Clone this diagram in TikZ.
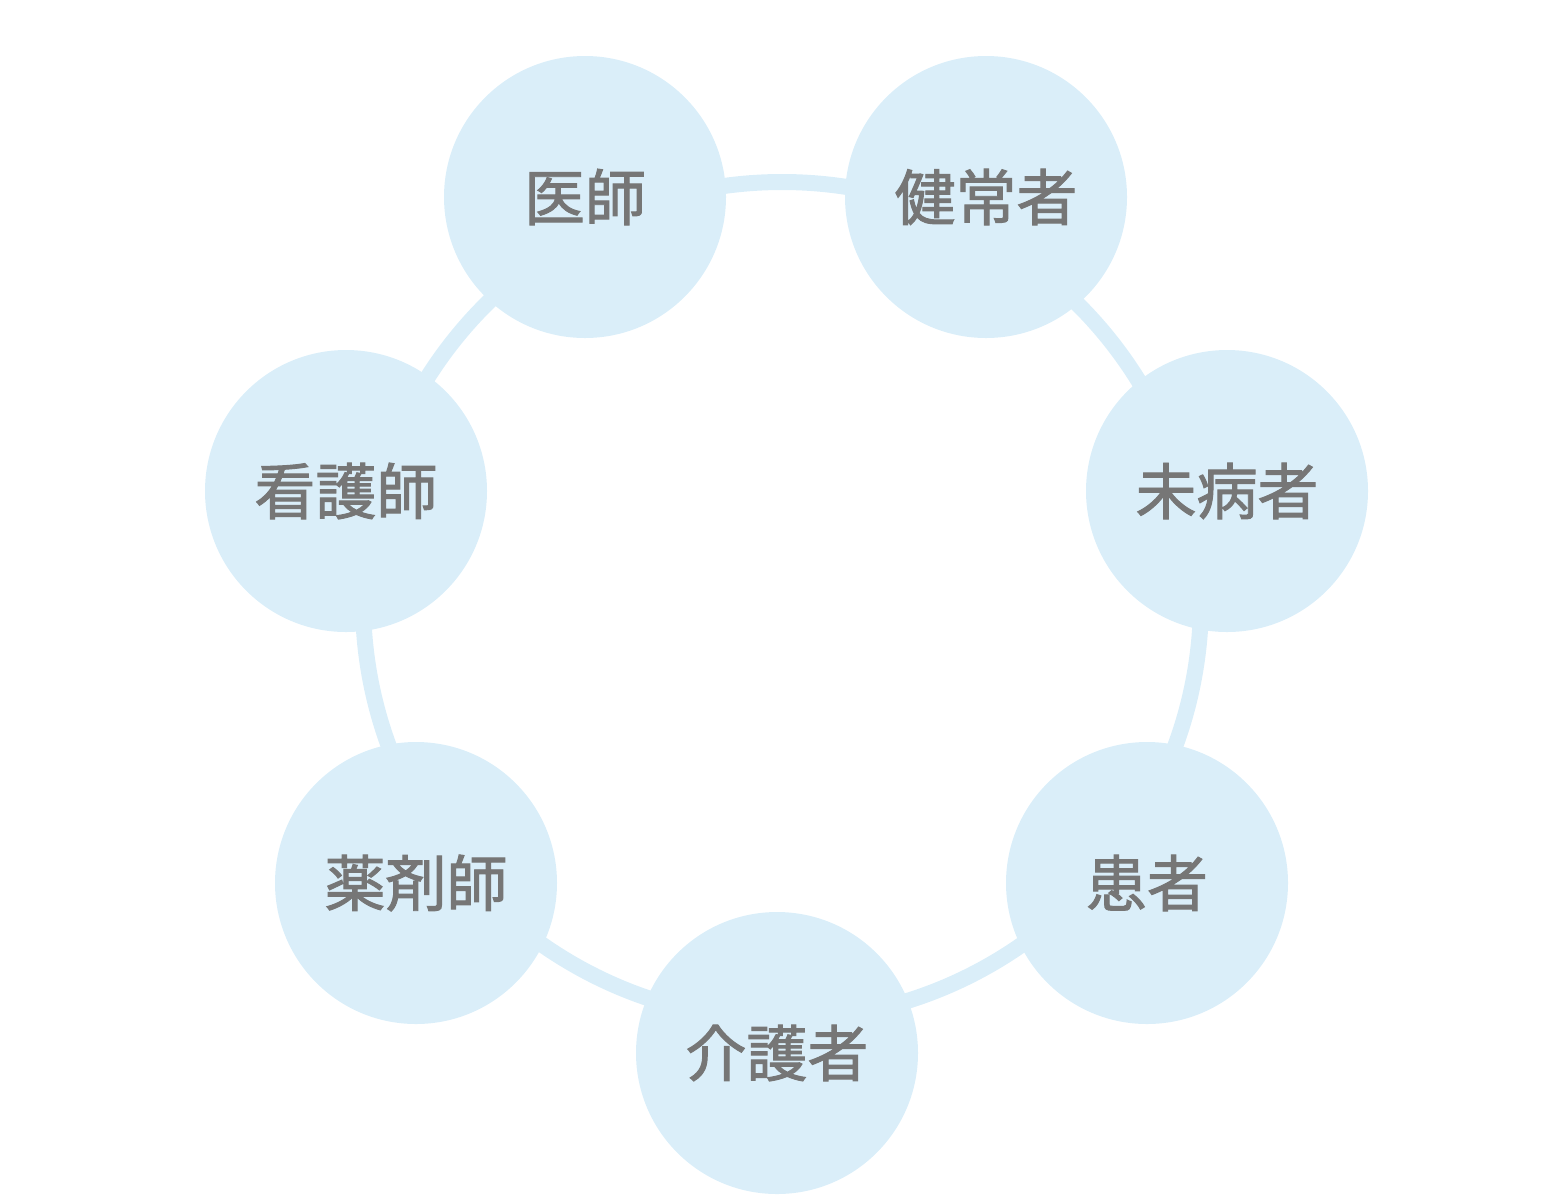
\documentclass[tikz,border=0pt]{standalone}
\usepackage{fontspec}
\newfontfamily\jpfont[FakeBold=1.6]{Noto Sans CJK JP}
\definecolor{ringblue}{HTML}{DAEEF9}
\definecolor{labelgray}{HTML}{767676}

\begin{document}
\begin{tikzpicture}[x=1pt,y=-1pt,semithick]
\tikzstyle{member}=[circle,fill=ringblue,draw=none,minimum size=282pt,inner sep=0pt,text=labelgray,font=\jpfont\fontsize{61}{61}\selectfont]
\useasboundingbox (0,0) rectangle (1554,1195);
\coordinate (O) at (782,601);
\draw[ringblue,line width=16pt] (O) circle (419pt);
\node[member] (ishi) at (585,197) {医師};
\node[member] (kenjo) at (986,197) {健常者};
\node[member] (mibyo) at (1227,491) {未病者};
\node[member] (kanja) at (1147,883) {患者};
\node[member] (kaigo) at (777,1053) {介護者};
\node[member] (yakuzai) at (416,883) {薬剤師};
\node[member] (kango) at (346,491) {看護師};
\end{tikzpicture}
\end{document}
